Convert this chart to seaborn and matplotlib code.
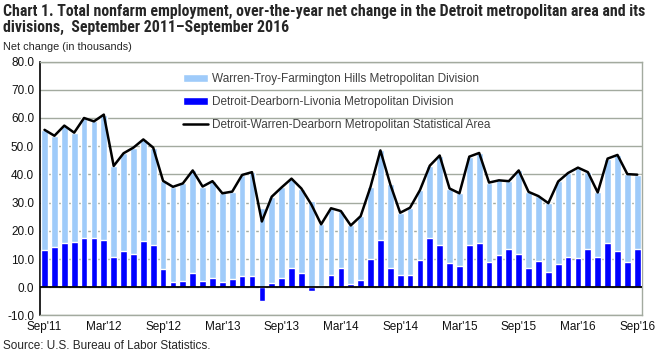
import numpy as np
import pandas as pd
import seaborn as sns
import matplotlib.pyplot as plt
from matplotlib import font_manager

months = ["Sep'11", "Oct'11", "Nov'11", "Dec'11", "Jan'12", "Feb'12", "Mar'12", "Apr'12",
          "May'12", "Jun'12", "Jul'12", "Aug'12", "Sep'12", "Oct'12", "Nov'12", "Dec'12",
          "Jan'13", "Feb'13", "Mar'13", "Apr'13", "May'13", "Jun'13", "Jul'13", "Aug'13",
          "Sep'13", "Oct'13", "Nov'13", "Dec'13", "Jan'14", "Feb'14", "Mar'14", "Apr'14",
          "May'14", "Jun'14", "Jul'14", "Aug'14", "Sep'14", "Oct'14", "Nov'14", "Dec'14",
          "Jan'15", "Feb'15", "Mar'15", "Apr'15", "May'15", "Jun'15", "Jul'15", "Aug'15",
          "Sep'15", "Oct'15", "Nov'15", "Dec'15", "Jan'16", "Feb'16", "Mar'16", "Apr'16",
          "May'16", "Jun'16", "Jul'16", "Aug'16", "Sep'16"]

# Warren-Troy-Farmington Hills Metropolitan Division
warren = [42.5, 39.3, 41.8, 38.8, 42.4, 41.2, 44.3, 32.2, 34.8, 37.6, 35.9, 34.7,
          31.2, 33.7, 34.5, 36.3, 33.4, 34.3, 31.4, 30.9, 35.8, 36.8, 28.1, 30.6,
          32.3, 31.8, 29.9, 30.6, 21.8, 23.6, 20.3, 20.7, 22.5, 25.5, 31.6, 29.6,
          22.0, 23.8, 24.6, 25.5, 31.9, 26.3, 25.7, 31.5, 32.1, 28.1, 26.4, 23.9,
          29.5, 26.9, 22.9, 24.3, 29.2, 29.7, 31.9, 27.1, 22.8, 29.8, 33.9, 31.1, 26.2]

# Detroit-Dearborn-Livonia Metropolitan Division
detroit = [13.3, 14.4, 15.5, 16.0, 17.6, 17.6, 16.9, 10.8, 12.7, 11.9, 16.5, 14.8,
           6.5, 1.9, 2.3, 5.1, 2.3, 3.3, 1.9, 3.0, 4.0, 4.0, -4.8, 1.5,
           3.1, 6.7, 5.1, -1.2, 0.5, 4.4, 6.7, 1.2, 2.7, 10.1, 16.9, 6.9,
           4.4, 4.4, 9.8, 17.6, 14.8, 8.7, 7.6, 14.8, 15.5, 9.0, 11.5, 13.7,
           11.9, 6.9, 9.4, 5.5, 8.3, 10.8, 10.5, 13.7, 10.8, 15.8, 13.0, 9.0, 13.7]

# Detroit-Warren-Dearborn MSA
total = [55.8, 53.7, 57.3, 54.8, 60.0, 58.8, 61.2, 43.0, 47.5, 49.5, 52.4, 49.5,
         37.7, 35.6, 36.8, 41.4, 35.7, 37.6, 33.3, 33.9, 39.8, 40.8, 23.3, 32.1,
         35.4, 38.5, 35.0, 29.4, 22.3, 28.0, 27.0, 21.9, 25.2, 35.6, 48.5, 36.5,
         26.4, 28.2, 34.4, 43.1, 46.7, 35.0, 33.3, 46.3, 47.6, 37.1, 37.9, 37.6,
         41.4, 33.8, 32.3, 29.8, 37.5, 40.5, 42.4, 40.8, 33.6, 45.6, 46.9, 40.1, 39.9]

yticks = np.arange(-10, 81, 10)

df = pd.DataFrame({'month': months, 'warren': warren, 'detroit': detroit, 'total': total})
# excel-style stacking: warren sits on top of detroit only when detroit is positive
df['warren_top'] = df['warren'] + df['detroit'].clip(lower=0)
df['pos'] = np.arange(len(df))

sns.set_style('white')
plt.rcParams['font.family'] = ['Liberation Sans', 'DejaVu Sans']

# narrow font for the title if there is one
names = {f.name for f in font_manager.fontManager.ttflist}
narrow = None
for n in ['Liberation Sans Narrow', 'DejaVu Sans Condensed', 'Roboto Condensed', 'Open Sans Condensed']:
    if n in names:
        narrow = n
        break
title_size = 11.4 if narrow else 10.3
title_fam = [narrow, 'DejaVu Sans'] if narrow else ['Liberation Sans', 'DejaVu Sans']

fig = plt.figure(figsize=(6.6, 3.56), dpi=100)
ax = fig.add_axes([0.060, 0.114, 0.913, 0.713])

grid_c = '#a3aa9f'
for v in yticks:
    ax.axhline(v, color=grid_c, lw=1, zorder=0)

light = '#9fcbfa'
dark = '#0000ff'
sns.barplot(data=df, x='month', y='warren_top', order=months, color=light, width=0.68,
            saturation=1, ax=ax, zorder=2, label='Warren-Troy-Farmington Hills Metropolitan Division')
sns.barplot(data=df, x='month', y='detroit', order=months, color=dark, width=0.68,
            saturation=1, ax=ax, zorder=3, label='Detroit-Dearborn-Livonia Metropolitan Division')
sns.lineplot(data=df, x='pos', y='total', color='black', lw=1.8, ax=ax, zorder=4,
             label='Detroit-Warren-Dearborn Metropolitan Statistical Area')
ax.axhline(0, color='black', lw=1.3, zorder=5)

ax.set_xlim(-0.5, len(months) - 0.5)
ax.set_ylim(-10, 80)
ax.set_yticks(yticks)
ax.set_yticklabels([f'{v:.1f}' for v in yticks], fontsize=8.5, color='#111111')
ax.set_xticks(np.arange(0, len(months), 6))
ax.set_xticklabels([months[i] for i in range(0, len(months), 6)], fontsize=8.5, color='#111111')
ax.tick_params(axis='both', length=0, pad=4)
ax.set_xlabel('')
ax.set_ylabel('')

for s in ['top', 'right', 'bottom']:
    ax.spines[s].set_color(grid_c)
    ax.spines[s].set_linewidth(1)
ax.spines['left'].set_color('black')
ax.spines['left'].set_linewidth(1.2)

handles, labels = ax.get_legend_handles_labels()
order = [labels.index(l) for l in ['Warren-Troy-Farmington Hills Metropolitan Division',
                                   'Detroit-Dearborn-Livonia Metropolitan Division',
                                   'Detroit-Warren-Dearborn Metropolitan Statistical Area']]
leg = ax.legend([handles[i] for i in order], [labels[i] for i in order],
                loc='upper left', bbox_to_anchor=(0.238, 0.955), frameon=False, fontsize=8.5,
                borderpad=0, borderaxespad=0, handlelength=2.1, handleheight=0.6,
                labelspacing=0.95, handletextpad=0.35)
for t in leg.get_texts():
    t.set_color('#404040')

fig.text(0.005, 0.99, 'Chart 1. Total nonfarm employment, over-the-year net change in the Detroit metropolitan area and its\n'
         'divisions,  September 2011\u2013September 2016', ha='left', va='top', fontsize=title_size,
         fontweight='bold', family=title_fam, linespacing=1.15)
fig.text(0.005, 0.868, 'Net change (in thousands)', ha='left', va='center', fontsize=7.8)
fig.text(0.005, 0.028, 'Source: U.S. Bureau of Labor Statistics.', ha='left', va='center', fontsize=8.5)

fig.savefig('out.png', dpi=100)
